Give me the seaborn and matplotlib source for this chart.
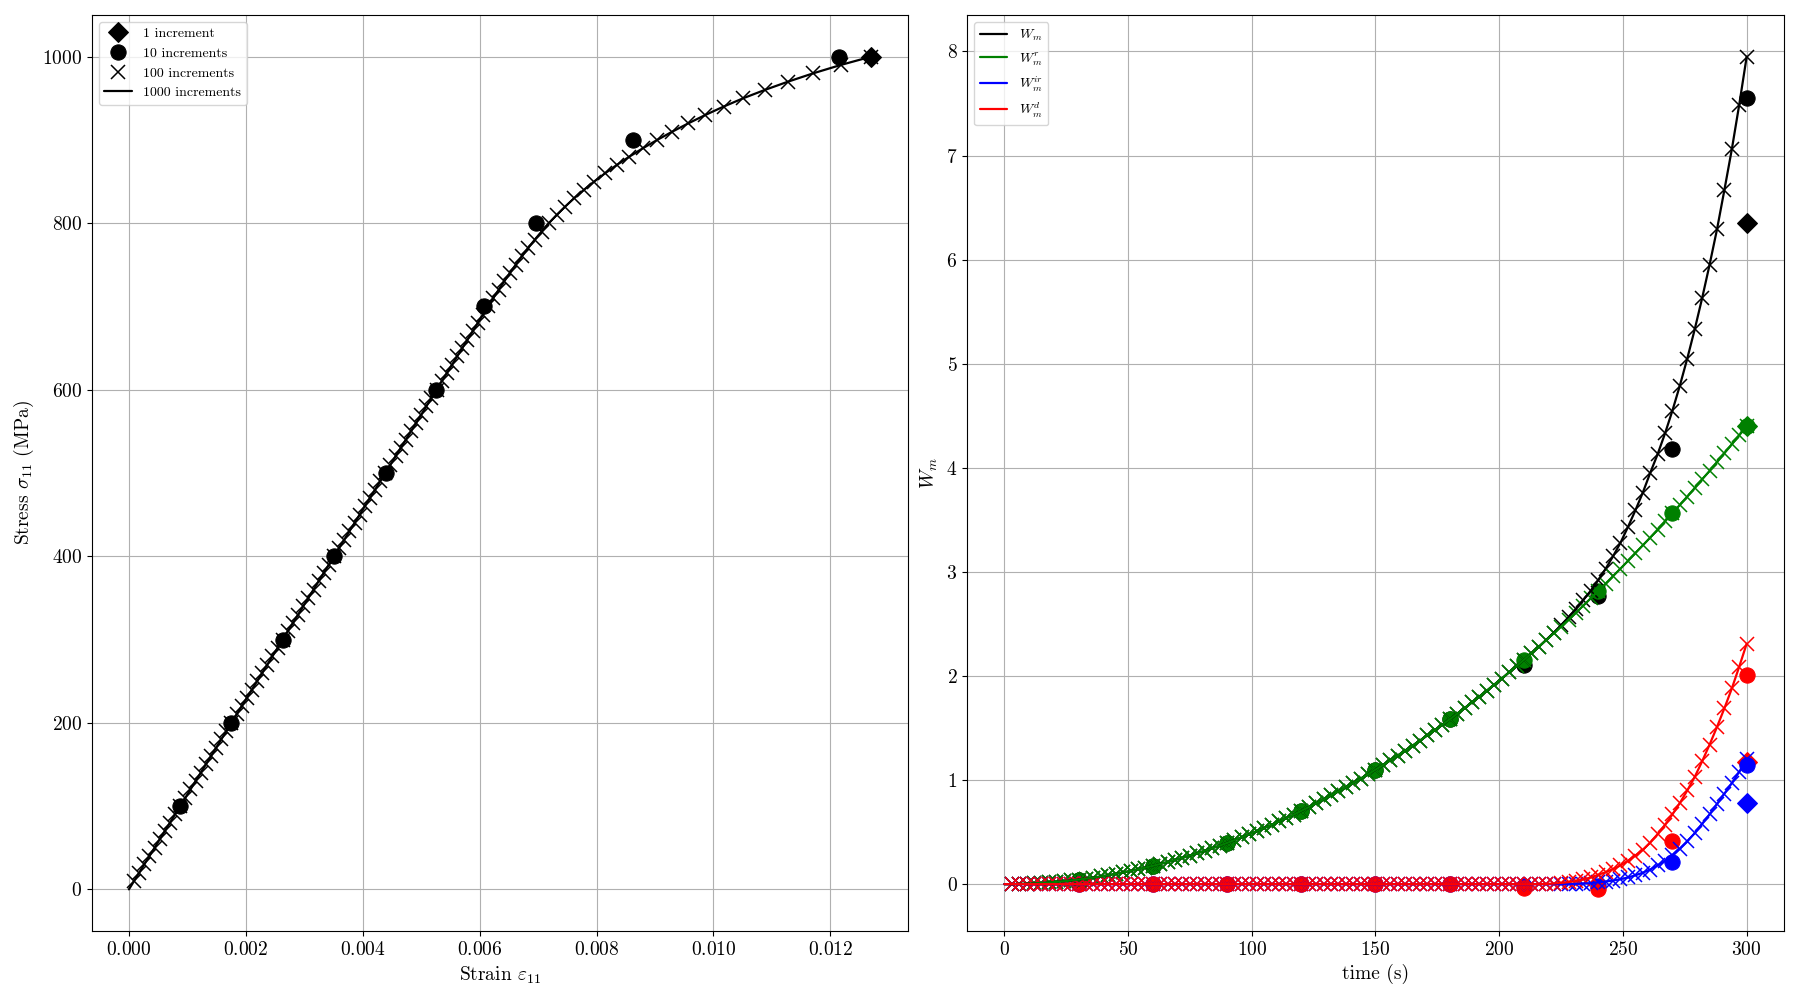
import numpy as np
import matplotlib
matplotlib.use("Agg")
import matplotlib.pyplot as plt
import seaborn as sns


# STYLE

sns.set_style("ticks", rc={
    "axes.edgecolor": "black",
    "axes.labelcolor": "black",
    "text.color": "black",
    "xtick.color": "black",
    "ytick.color": "black",
    "axes.grid": True,
    "grid.color": "#b0b0b0",
    "grid.linewidth": 0.8,
})
plt.rcParams["font.family"] = ["cmr10", "DejaVu Serif"]
plt.rcParams["mathtext.fontset"] = "cm"
plt.rcParams["axes.formatter.use_mathtext"] = True
plt.rcParams["axes.unicode_minus"] = False
plt.rcParams["xtick.labelsize"] = 14
plt.rcParams["ytick.labelsize"] = 14
plt.rcParams["axes.labelsize"] = 14
plt.rcParams["legend.fontsize"] = 10


# DATA — left panel (stress in MPa, strain in 1e-3)

stress_1 = [1000]
strain_1 = [12.70]

stress_10 = [100, 200, 300, 400, 500, 600, 700, 800, 900, 1000]
strain_10 = [0.88, 1.74, 2.64, 3.50, 4.39, 5.26, 6.07, 6.97, 8.62, 12.15]

stress_100 = np.arange(10, 1001, 10)
strain_100 = [
    0.088, 0.175, 0.263, 0.351, 0.439, 0.526, 0.614, 0.702, 0.789, 0.877,
    0.965, 1.053, 1.140, 1.228, 1.316, 1.404, 1.491, 1.579, 1.667, 1.754,
    1.842, 1.930, 2.018, 2.105, 2.193, 2.281, 2.368, 2.456, 2.544, 2.632,
    2.719, 2.807, 2.895, 2.982, 3.070, 3.158, 3.246, 3.333, 3.421, 3.509,
    3.596, 3.684, 3.772, 3.860, 3.947, 4.035, 4.123, 4.211, 4.298, 4.386,
    4.474, 4.561, 4.649, 4.737, 4.825, 4.912, 5.000, 5.088, 5.175, 5.263,
    5.351, 5.439, 5.527, 5.615, 5.703, 5.791, 5.879, 5.967, 6.055, 6.143,
    6.233, 6.325, 6.419, 6.516, 6.616, 6.720, 6.828, 6.941, 7.059, 7.183,
    7.318, 7.463, 7.618, 7.783, 7.958, 8.148, 8.348, 8.563, 8.793, 9.038,
    9.298, 9.573, 9.863, 10.173, 10.508, 10.878, 11.278, 11.708, 12.178, 12.698,
]

# 1000 increments curve, drawn through the same read points
stress_1000 = [0] + list(stress_100)
strain_1000 = [0.0] + strain_100


# DATA — right panel (time in s)

time_1 = [300]
w_tot_1 = [6.35]
w_r_1 = [4.40]
w_ir_1 = [0.78]
w_d_1 = [1.17]

time_10 = [30, 60, 90, 120, 150, 180, 210, 240, 270, 300]
w_tot_10 = [0.044, 0.176, 0.396, 0.704, 1.10, 1.584, 2.11, 2.77, 4.18, 7.55]
w_r_10 = [0.044, 0.176, 0.396, 0.704, 1.10, 1.584, 2.156, 2.816, 3.564, 4.40]
w_ir_10 = [0.0, 0.0, 0.0, 0.0, 0.0, 0.0, -0.02, -0.02, 0.21, 1.14]
w_d_10 = [0.0, 0.0, 0.0, 0.0, 0.0, 0.0, -0.04, -0.05, 0.41, 2.01]

time_100 = np.arange(3, 301, 3)
w_r_100 = [
    0.000, 0.002, 0.004, 0.007, 0.011, 0.016, 0.022, 0.028, 0.036, 0.044,
    0.053, 0.063, 0.074, 0.086, 0.099, 0.113, 0.127, 0.143, 0.159, 0.176,
    0.194, 0.213, 0.233, 0.253, 0.275, 0.297, 0.321, 0.345, 0.370, 0.396,
    0.423, 0.451, 0.479, 0.509, 0.539, 0.570, 0.602, 0.635, 0.669, 0.704,
    0.740, 0.776, 0.814, 0.852, 0.891, 0.931, 0.972, 1.014, 1.056, 1.100,
    1.144, 1.190, 1.236, 1.283, 1.331, 1.380, 1.430, 1.480, 1.532, 1.584,
    1.637, 1.691, 1.746, 1.802, 1.859, 1.917, 1.975, 2.035, 2.095, 2.156,
    2.218, 2.281, 2.345, 2.409, 2.475, 2.541, 2.609, 2.677, 2.746, 2.816,
    2.887, 2.959, 3.031, 3.105, 3.179, 3.254, 3.330, 3.407, 3.485, 3.564,
    3.644, 3.724, 3.806, 3.888, 3.971, 4.055, 4.140, 4.226, 4.312, 4.400,
]
w_tot_100 = w_r_100[:72] + [
    2.347, 2.415, 2.488, 2.565, 2.645, 2.730, 2.820, 2.920, 3.030, 3.150,
    3.280, 3.430, 3.590, 3.760, 3.950, 4.130, 4.330, 4.550, 4.790, 5.050,
    5.330, 5.630, 5.950, 6.290, 6.670, 7.060, 7.490, 7.950,
]
w_ir_100 = [0.0] * 75 + [
    0.001, 0.003, 0.006, 0.010, 0.017, 0.025, 0.035, 0.048, 0.064, 0.085,
    0.110, 0.140, 0.180, 0.225, 0.280, 0.340, 0.410, 0.490, 0.580, 0.670,
    0.770, 0.870, 0.970, 1.080, 1.200,
]
w_d_100 = [0.0] * 72 + [
    0.002, 0.006, 0.012, 0.020, 0.030, 0.045, 0.065, 0.090, 0.115, 0.145,
    0.180, 0.225, 0.275, 0.330, 0.400, 0.480, 0.570, 0.670, 0.780, 0.900,
    1.030, 1.180, 1.340, 1.510, 1.690, 1.880, 2.090, 2.310,
]

time_1000 = [0] + list(time_100)

series_names = [r"$W_m$", r"$W_m^r$", r"$W_m^{ir}$", r"$W_m^d$"]
series_colors = ["black", "green", "blue", "red"]


# FIGURE

fig, (ax1, ax2) = plt.subplots(1, 2, figsize=(18, 10), dpi=100)
fig.subplots_adjust(left=0.051, right=0.991, bottom=0.069, top=0.985, wspace=0.072)


def markers(ax, x, y, color, marker, size, mew=0.75, label=None):
    sns.lineplot(x=x, y=y, ax=ax, color=color, marker=marker, markersize=size,
                 linestyle="", markeredgecolor=color, markeredgewidth=mew,
                 label=label, legend=False, sort=False, errorbar=None)


# LEFT — stress vs strain

k = 1e-3
markers(ax1, np.array(strain_1) * k, stress_1, "black", "D", 10, label="1 increment")
markers(ax1, np.array(strain_10) * k, stress_10, "black", "o", 11, label="10 increments")
markers(ax1, np.array(strain_100) * k, stress_100, "black", "x", 10, mew=1.1,
        label="100 increments")
sns.lineplot(x=np.array(strain_1000) * k, y=stress_1000, ax=ax1, color="black",
             linewidth=1.6, sort=False, errorbar=None, label="1000 increments", legend=False)

ax1.set_xlabel(r"Strain $\varepsilon_{11}$")
ax1.set_ylabel(r"Stress $\sigma_{11}$ (MPa)")
ax1.legend(loc="upper left")


# RIGHT — energies vs time

data_1 = [w_tot_1, w_r_1, w_ir_1, w_d_1]
data_10 = [w_tot_10, w_r_10, w_ir_10, w_d_10]
data_100 = [w_tot_100, w_r_100, w_ir_100, w_d_100]

for vals, c in zip(data_1, series_colors):
    markers(ax2, time_1, vals, c, "D", 10)
for vals, c in zip(data_10, series_colors):
    markers(ax2, time_10, vals, c, "o", 11)
for vals, c in zip(data_100, series_colors):
    markers(ax2, time_100, vals, c, "x", 10, mew=1.1)
for vals, c, name in zip(data_100, series_colors, series_names):
    sns.lineplot(x=time_1000, y=[0.0] + vals, ax=ax2, color=c, linewidth=1.6,
                 sort=False, errorbar=None, label=name, legend=False)

ax2.set_xlabel("time (s)")
ax2.set_ylabel(r"$W_m$")
ax2.legend(loc="upper left")

for ax in (ax1, ax2):
    ax.grid(True)
    for s in ax.spines.values():
        s.set_visible(True)
        s.set_color("black")

fig.savefig("out.png", dpi=100)
plt.close(fig)
